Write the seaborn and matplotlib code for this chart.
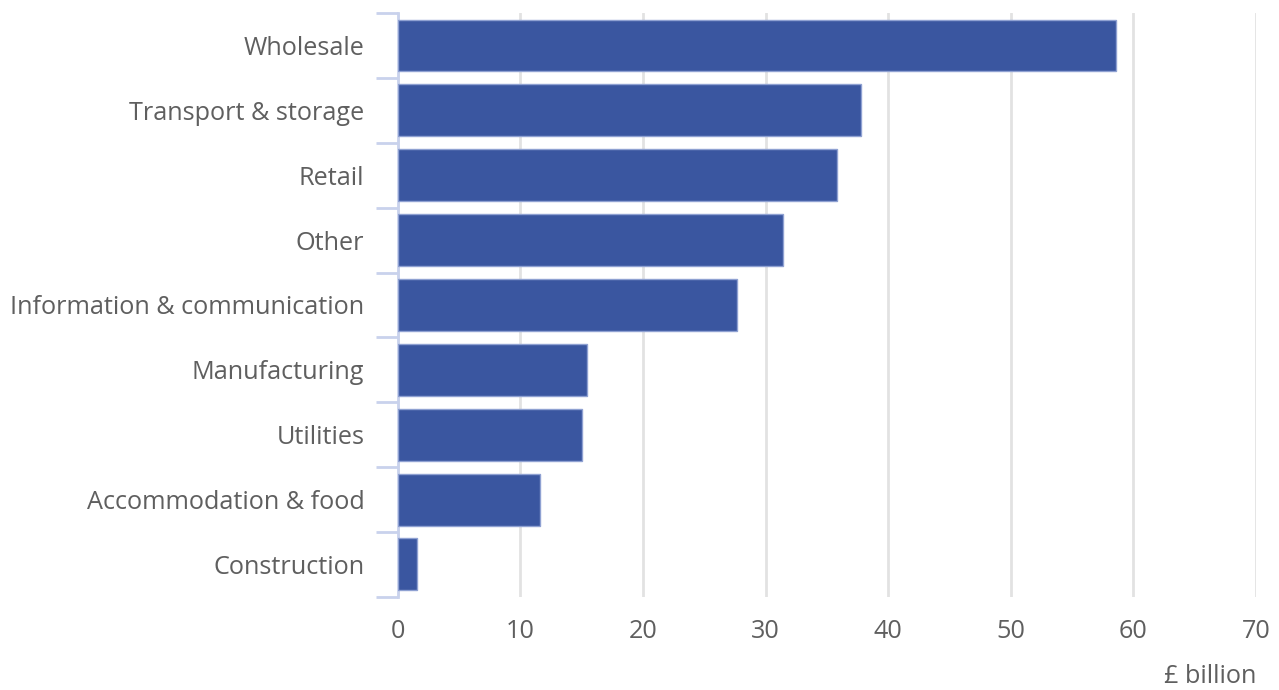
import pandas as pd
import numpy as np
import matplotlib
matplotlib.use('Agg')
import matplotlib.pyplot as plt
import seaborn as sns

# Datos
sectores = ['Wholesale', 'Transport & storage', 'Retail', 'Other',
            'Information & communication', 'Manufacturing', 'Utilities',
            'Accommodation & food', 'Construction']
valores = [58.6, 37.8, 35.8, 31.4, 27.7, 15.4, 15.0, 11.6, 1.6]
x_ticks = [0, 10, 20, 30, 40, 50, 60, 70]

df = pd.DataFrame({'sector': sectores, 'valor': valores})

sns.set_style('white')
plt.rcParams['font.family'] = ['Open Sans', 'DejaVu Sans']

fig = plt.figure(figsize=(12.79, 6.9), dpi=100)
ax = fig.add_axes([0.311, 0.135, 0.671, 0.846])

sns.barplot(data=df, x='valor', y='sector', color='#3a56a0', width=0.8,
            edgecolor='#8fa1d2', linewidth=1, saturation=1, ax=ax, zorder=3)

ax.set_xlim(0, 70)
ax.set_ylim(len(sectores) - 0.5, -0.5)
ax.set_xticks(x_ticks)
ax.xaxis.grid(True, color='#e2e2e2', linewidth=2, zorder=0)
ax.yaxis.grid(False)

for s in ['top', 'right', 'bottom']:
    ax.spines[s].set_visible(False)
ax.spines['left'].set_color('#c9d2ec')
ax.spines['left'].set_linewidth(2)

# ticks del eje y en los limites de cada categoria
ax.set_yticks(np.arange(-0.5, len(sectores), 1), minor=True)
ax.tick_params(axis='y', which='minor', left=True, length=16, width=2, color='#c9d2ec')
ax.tick_params(axis='y', which='major', length=0, pad=24, labelsize=18.2, labelcolor='#5f5f5f')
ax.tick_params(axis='x', which='major', length=0, pad=16, labelsize=18.2, labelcolor='#5f5f5f')

ax.set_ylabel('')
ax.set_xlabel('£ billion', fontsize=18.2, color='#5f5f5f', loc='right', labelpad=14)

fig.savefig('out.png', dpi=100)
